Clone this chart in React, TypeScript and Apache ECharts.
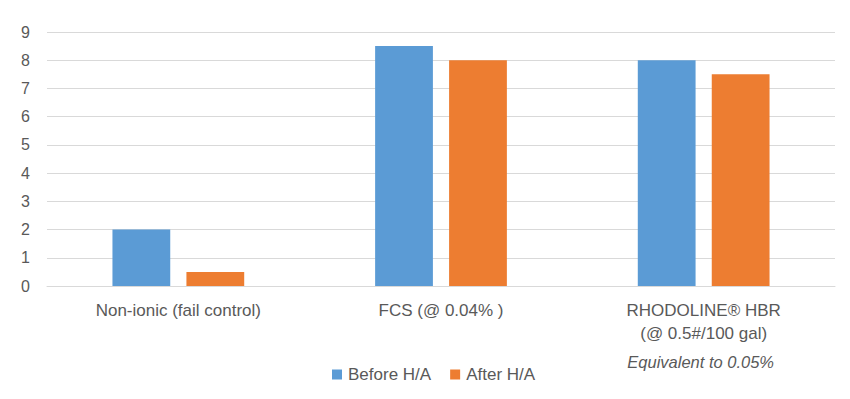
import React, { useEffect, useRef } from "react";
import * as echarts from "echarts";

const categories = [
  "Non-ionic (fail control)",
  "FCS (@ 0.04% )",
  "RHODOLINE® HBR\n(@ 0.5#/100 gal)",
];
const seriesNames = ["Before H/A", "After H/A"];
const beforeValues = [2, 8.5, 8];
const afterValues = [0.5, 8, 7.5];
const yTicks = { min: 0, max: 9, interval: 1 };
const note = "Equivalent to 0.05%";

const FONT = "'Liberation Sans', Arial, sans-serif";
const TEXT = "#595959";

export default function App() {
  const ref = useRef<HTMLDivElement>(null);
  useEffect(() => {
    if (!ref.current) return;
    const chart = echarts.init(ref.current, undefined, { renderer: "svg" });
    chart.setOption({
      animation: false,
      backgroundColor: "#ffffff",
      textStyle: { fontFamily: FONT },
      grid: { left: 47, right: 15, top: 32, bottom: 113, containLabel: false },
      legend: {
        top: 366,
        left: 332,
        padding: 0,
        itemWidth: 10,
        itemHeight: 10,
        itemGap: 19,
        icon: "rect",
        textStyle: { color: TEXT, fontSize: 17, fontFamily: FONT, padding: [0, 0, 0, 1] },
        data: seriesNames,
      },
      xAxis: {
        type: "category",
        data: categories,
        axisLine: { lineStyle: { color: "#d9d9d9" } },
        axisTick: { show: false },
        axisLabel: { color: TEXT, fontSize: 17, margin: 12.5, lineHeight: 23, fontFamily: FONT },
      },
      yAxis: {
        type: "value",
        min: yTicks.min,
        max: yTicks.max,
        interval: yTicks.interval,
        axisLine: { show: false },
        axisTick: { show: false },
        splitLine: { lineStyle: { color: "#d9d9d9" } },
        axisLabel: { color: TEXT, fontSize: 16, margin: 17, fontFamily: FONT },
      },
      series: [
        {
          name: seriesNames[0],
          type: "bar",
          data: beforeValues,
          barWidth: "22%",
          barGap: "28%",
          itemStyle: { color: "#5b9bd5" },
        },
        {
          name: seriesNames[1],
          type: "bar",
          data: afterValues,
          barWidth: "22%",
          itemStyle: { color: "#ed7d31" },
        },
      ],
    });
    const [px] = chart.convertToPixel({ xAxisIndex: 0, yAxisIndex: 0 } as any, [2, 0]) as number[];
    chart.setOption({
      graphic: [
        {
          type: "text",
          x: px - 3,
          y: 362,
          style: {
            text: note,
            fill: TEXT,
            font: `italic 16.5px ${FONT}`,
            textAlign: "center",
            textVerticalAlign: "middle",
          },
        },
      ],
    });
    return () => chart.dispose();
  }, []);
  return <div ref={ref} style={{ width: 850, height: 399, margin: -8 }} />;
}
